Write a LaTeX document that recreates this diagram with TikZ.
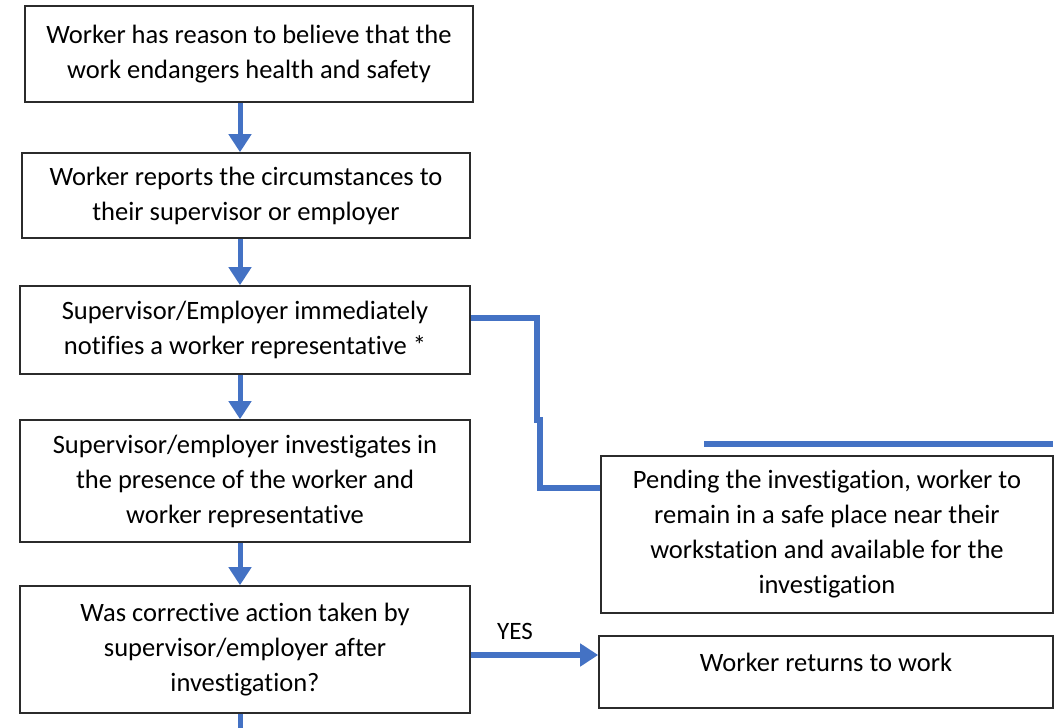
\documentclass[tikz,border=0pt]{standalone}
\usepackage{fontspec}
\setmainfont{Carlito}[Ligatures={NoCommon}]
\usetikzlibrary{arrows.meta}
\definecolor{flowblue}{HTML}{4472C4}
\definecolor{boxline}{HTML}{2B2B2B}
\begin{document}
\begin{tikzpicture}[x=1pt,y=-1pt,
  stepbox/.style={draw=boxline,line width=1.6pt,rectangle,align=center,
    inner sep=0pt,font=\fontsize{26.5}{35}\selectfont},
  flow/.style={draw=flowblue,line width=5pt,-{Triangle[length=18pt,width=22pt]}},
  link/.style={draw=flowblue,line width=6.5pt}]
\useasboundingbox (0,0) rectangle (1061,728);
\fill[white] (0,0) rectangle (1061,728);

\node[stepbox,minimum width=448pt,minimum height=96pt] (b1) at (249,54)
  {Worker has reason to believe that the\\work endangers health and safety};
\node[stepbox,minimum width=448pt,minimum height=85pt] (b2) at (246,195.5)
  {Worker reports the circumstances to\\their supervisor or employer};
\node[stepbox,minimum width=450pt,minimum height=88pt] (b3) at (245,330)
  {Supervisor/Employer immediately\\notifies a worker representative *};
\node[stepbox,minimum width=450pt,minimum height=122pt] (b4) at (245,481)
  {Supervisor/employer investigates in\\the presence of the worker and\\worker representative};
\node[stepbox,minimum width=450pt,minimum height=127pt] (b5) at (245,649.5)
  {Was corrective action taken by\\supervisor/employer after\\investigation?};
\node[stepbox,minimum width=452pt,minimum height=157pt] (pend) at (827,534.5)
  {Pending the investigation, worker to\\remain in a safe place near their\\workstation and available for the\\investigation};
\node[stepbox,minimum width=454pt,minimum height=72pt,text depth=20pt] (ret) at (826,672)
  {Worker returns to work};

\coordinate (ax) at (240,0);
\draw[flow] (b1.south -| ax) -- (b2.north -| ax);
\draw[flow] (b2.south -| ax) -- (b3.north -| ax);
\draw[flow] (b3.south -| ax) -- (b4.north -| ax);
\draw[flow] (b4.south -| ax) -- (b5.north -| ax);

% branch to the pending box
\coordinate (j1) at (537,318);
\coordinate (j2) at (537,420);
\coordinate (j3) at (540,420);
\coordinate (j4) at (540,488);
\draw[link] (b3.east |- j1) -- (j1) -- (j2) -- (j3) -- (j4) -- (pend.west |- j4);

% separator stroke above the pending box
\coordinate (s1) at (704,444);
\coordinate (s2) at (1053,444);
\draw[link] (s1) -- (s2);

% YES branch
\coordinate (yy) at (0,655);
\draw[flow,line width=6pt] (b5.east |- yy) -- (ret.west |- yy);
\node[font=\fontsize{25}{30}\selectfont] (yes) at (515,631) {YES};

% continuation below the question box
\coordinate (tail) at (240,728);
\draw[draw=flowblue,line width=5pt] (b5.south -| ax) -- (tail);
\end{tikzpicture}
\end{document}
